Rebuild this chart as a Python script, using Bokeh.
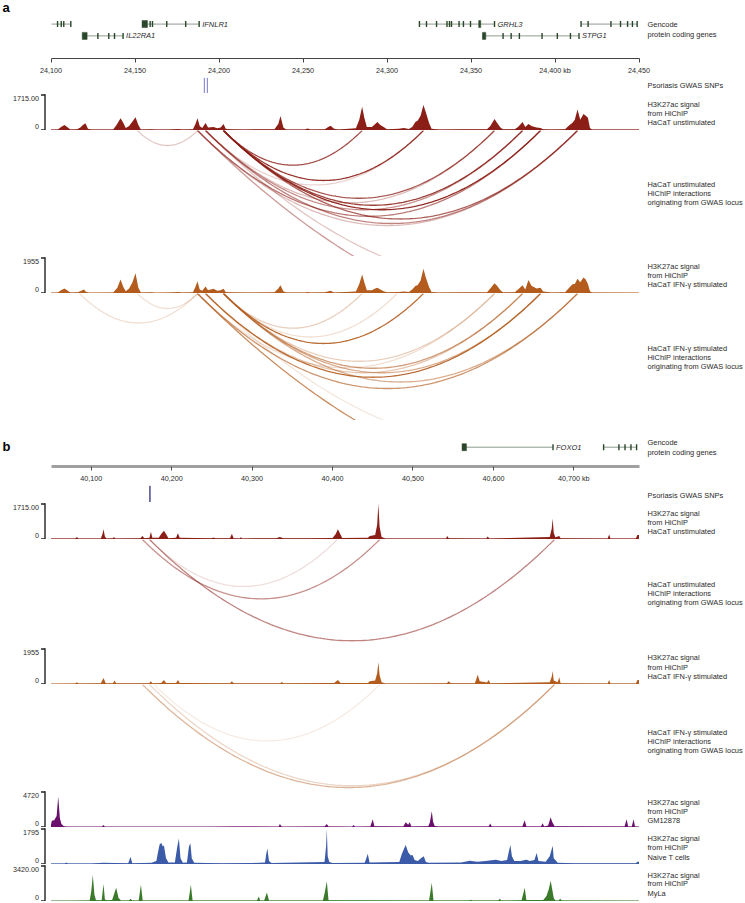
from bokeh.plotting import figure
from bokeh.layouts import column
from bokeh.models import Range1d, LinearAxis, FixedTicker, Label, BoxAnnotation
from bokeh.core.properties import value
from bokeh.embed import file_html
from bokeh.resources import INLINE

FONT = "Liberation Sans"
TXT = "#2a2a2a"

# ------------------------------------------------------------------ data: panel a
A_START, A_END = 24100, 24450
a_ticks = [24100, 24150, 24200, 24250, 24300, 24350, 24400, 24450]
a_tick_labels = ["24,100", "24,150", "24,200", "24,250", "24,300", "24,350", "24,400 kb", "24,450"]

a_gene_name = ["", "IFNLR1", "GRHL3", "", "IL22RA1", "STPG1"]
a_gene_start = [24100.3, 24154.2, 24319.3, 24415.5, 24118.6, 24356.8]
a_gene_end = [24111.8, 24188.2, 24364.0, 24448.9, 24142.9, 24414.3]
a_gene_row = [1, 1, 1, 1, 0, 0]
a_gene_exons = [
    [24103.9, 24106.1, 24107.6, 24111.8],
    [24159.0, 24160.4, 24168.9, 24180.2, 24188.2],
    [24319.3, 24323.5, 24329.5, 24335.7, 24337.2, 24338.4, 24342.9, 24345.5, 24349.7, 24364.0],
    [24415.5, 24419.7, 24433.3, 24439.0, 24443.2, 24446.1, 24448.9],
    [24127.9, 24134.4, 24137.8, 24142.9],
    [24369.1, 24373.9, 24378.8, 24392.3, 24401.4, 24409.2, 24414.3],
]
a_block_start = [24154.2, 24354.6, 24118.6, 24356.8]
a_block_end = [24157.4, 24355.8, 24121.5, 24358.8]
a_block_row = [1, 1, 0, 0]

a_snps = [24191.3, 24193.1]

sig_a_unstim = [
    (24100, 20), (24104, 30), (24106, 150), (24108, 245), (24110, 120), (24111.5, 30),
    (24115.5, 40), (24117.5, 120), (24119, 250), (24120.5, 330), (24122, 60), (24124, 20),
    (24137, 30), (24139, 250), (24141.4, 570), (24143, 350), (24144.5, 100), (24146.5, 200),
    (24148.5, 420), (24150.3, 620), (24152, 250), (24153.5, 30),
    (24160, 40), (24162, 20), (24170, 30), (24176, 50), (24178, 25),
    (24184.5, 40), (24186, 300), (24187.2, 570), (24188.5, 200), (24190, 100), (24192, 340),
    (24193.5, 120), (24196.7, 150), (24199, 90), (24201, 120), (24202.7, 290), (24204, 60), (24206.5, 40),
    (24215, 30), (24233, 40), (24235.3, 300), (24236.6, 690), (24238.3, 120), (24240, 30),
    (24251, 30), (24252.7, 70), (24254.5, 25), (24263, 40), (24265, 150), (24266.4, 210), (24268.5, 60), (24271, 30),
    (24281.5, 80), (24283.5, 500), (24285.2, 1140), (24286.5, 600), (24288, 150), (24291, 150),
    (24293, 300), (24294.3, 390), (24296, 250), (24298, 150), (24300, 40),
    (24307, 60), (24310, 100), (24313, 50), (24315, 150), (24317, 400), (24318.2, 450), (24320, 700),
    (24321.7, 1220), (24323, 900), (24325, 350), (24326.5, 60), (24331, 30),
    (24346, 35), (24359.5, 40), (24361.5, 200), (24364, 540), (24365.5, 350), (24367.5, 120), (24369, 40),
    (24376, 40), (24378, 150), (24380.7, 390), (24382.3, 150), (24384.2, 290), (24386, 200), (24389, 120),
    (24391.4, 100), (24393, 40), (24398, 30),
    (24406, 40), (24408, 200), (24410.4, 350), (24411.8, 500), (24413.4, 1010), (24415, 500), (24417, 790),
    (24418.3, 700), (24419.6, 600), (24420.8, 100), (24422, 25), (24450, 20),
]
sig_a_ifng = [
    (24100, 20), (24104, 30), (24106, 150), (24108, 245), (24110, 120), (24111.5, 30),
    (24116, 40), (24118, 120), (24119.6, 200), (24121, 60), (24123, 20),
    (24137, 30), (24139.5, 300), (24141.4, 750), (24143, 350), (24144.5, 100), (24146.5, 250),
    (24148.5, 600), (24150.3, 1100), (24152, 300), (24153.5, 30),
    (24160, 40), (24162, 20), (24170, 30), (24176, 50), (24178, 25),
    (24184.5, 40), (24186, 350), (24187.2, 650), (24188.5, 200), (24190, 120), (24192, 370),
    (24193.5, 150), (24196.7, 240), (24199, 120), (24201, 150), (24202.7, 240), (24204, 60), (24206.5, 40),
    (24215, 30), (24233, 40), (24235.3, 250), (24236.6, 430), (24238.3, 100), (24240, 30),
    (24251, 30), (24252.7, 60), (24254.5, 25), (24263, 40), (24266.4, 120), (24268.5, 30),
    (24281.5, 80), (24283.5, 500), (24285.2, 1040), (24286.5, 600), (24288, 150), (24291, 150),
    (24293, 250), (24294.3, 300), (24296, 200), (24298, 100), (24300, 40),
    (24307, 60), (24310, 80), (24313, 50), (24315, 200), (24317, 400), (24318.2, 430), (24320, 700),
    (24321.7, 1360), (24323, 900), (24325, 350), (24326.5, 60), (24331, 30),
    (24346, 35), (24359.5, 40), (24361.5, 250), (24364, 550), (24365.5, 400), (24367.5, 150), (24369, 40),
    (24376, 40), (24378, 200), (24380.7, 430), (24382.3, 200), (24384.2, 730), (24386, 400), (24389, 250),
    (24391.4, 300), (24393, 80), (24398, 30),
    (24406, 40), (24408, 250), (24410.4, 490), (24411.8, 500), (24413.4, 800), (24415, 600), (24417, 860),
    (24418.3, 750), (24419.6, 500), (24420.8, 100), (24422, 25), (24450, 20),
]
A_UNSTIM_MAX, A_IFNG_MAX = 1715, 1955

# interactions: (anchor 1 kb, anchor 2 kb, strength 0-1)
arcs_a_unstim = [
    (24151.5, 24187.2, 0.25), (24202.7, 24285.2, 0.8), (24202.7, 24321.7, 0.9), (24192.0, 24321.7, 0.2),
    (24202.7, 24364.0, 0.75), (24192.0, 24364.0, 0.3), (24202.7, 24380.7, 0.85), (24192.0, 24380.7, 0.5),
    (24202.7, 24391.4, 0.95), (24187.2, 24391.4, 0.6), (24202.7, 24413.4, 0.7), (24192.0, 24413.4, 0.55),
    (24187.2, 24413.4, 0.3), (24187.2, 24665.0, 0.45), (24192.0, 24560.0, 0.25),
]
arcs_a_ifng = [
    (24117.0, 24187.2, 0.2), (24151.5, 24187.2, 0.2), (24202.7, 24285.2, 0.3), (24202.7, 24306.0, 0.2),
    (24202.7, 24321.7, 0.9), (24202.7, 24364.0, 0.3), (24187.2, 24364.0, 0.2), (24202.7, 24380.7, 0.6),
    (24192.0, 24380.7, 0.35), (24192.0, 24391.4, 0.9), (24202.7, 24391.4, 0.5), (24187.2, 24413.4, 0.65),
    (24202.7, 24413.4, 0.5), (24187.2, 24665.0, 0.7), (24192.0, 24560.0, 0.15),
]

# ------------------------------------------------------------------ data: panel b
B_START, B_END = 40050, 40781
b_ticks = [40100, 40200, 40300, 40400, 40500, 40600, 40700]
b_tick_labels = ["40,100", "40,200", "40,300", "40,400", "40,500", "40,600", "40,700 kb"]

b_gene_name = ["FOXO1", ""]
b_gene_start = [40562.2, 40736.2]
b_gene_end = [40674.1, 40778.0]
b_gene_row = [0, 0]
b_gene_exons = [[40674.1], [40737.0, 40756.0, 40763.6, 40771.0, 40778.0]]
b_block_start = [40561.0]
b_block_end = [40566.5]
b_block_row = [0]

b_snps = [40173.0]

sig_b_unstim = [
    (40050, 20), (40080, 25), (40082.3, 100), (40084, 25), (40112, 30), (40114, 250), (40115.3, 480),
    (40117, 120), (40119, 30), (40127, 40), (40128.3, 100), (40130, 30), (40161, 40), (40163.7, 150),
    (40166, 40), (40172.5, 60), (40174.2, 360), (40176, 60), (40184, 60), (40187, 250), (40190.4, 400),
    (40193, 250), (40196, 40), (40205.5, 60), (40207.8, 280), (40210, 60), (40250, 40), (40252, 70), (40254, 40),
    (40272.5, 40), (40274.9, 260), (40277, 40), (40285, 30), (40286.1, 100), (40287.5, 30), (40330, 40),
    (40334.5, 100), (40339, 40), (40370, 40), (40400, 50), (40404, 250), (40406.6, 480), (40409, 300),
    (40412, 50), (40444, 60), (40446.3, 150), (40453, 200), (40455.5, 700), (40457, 1715), (40458.5, 600),
    (40461, 100), (40466, 30), (40541, 30), (40542.6, 150), (40544.5, 40), (40591, 30), (40592.9, 120),
    (40595, 30), (40620, 50), (40670, 100), (40672.5, 500), (40673.7, 1000), (40675, 300), (40677, 80),
    (40681.9, 150), (40683.5, 40), (40742, 30), (40743.9, 220), (40745.5, 30), (40777, 30), (40779, 200),
    (40781, 200),
]
sig_b_ifng = [
    (40050, 20), (40080, 25), (40082.3, 100), (40084, 25), (40112, 40), (40115.3, 340), (40118, 40),
    (40127, 40), (40129, 200), (40131, 40), (40172, 40), (40174.2, 160), (40176, 40), (40187, 60),
    (40190.4, 220), (40193, 60), (40205.5, 60), (40207.8, 230), (40210, 60), (40272.5, 40), (40274.9, 150),
    (40277, 40), (40335, 40), (40337, 110), (40339, 40), (40402, 60), (40406.6, 230), (40410, 60),
    (40444, 60), (40446.3, 160), (40453, 200), (40455.5, 600), (40457, 1210), (40458.5, 500), (40461, 100),
    (40466, 30), (40542, 40), (40544.5, 160), (40547, 40), (40577, 40), (40580.5, 520), (40583, 150),
    (40592, 80), (40594.2, 220), (40596, 40), (40670, 100), (40672.5, 400), (40673.7, 720), (40675, 200),
    (40680, 100), (40681.9, 380), (40683.5, 40), (40742, 30), (40743.9, 220), (40745.5, 30), (40777, 30),
    (40779, 220), (40781, 220),
]
sig_b_gm12878 = [
    (40050, 300), (40051, 830), (40054, 900), (40057, 1500), (40059, 4100), (40061, 1200), (40063, 400),
    (40066, 100), (40070, 40), (40113, 40), (40115.3, 260), (40117, 40), (40180, 40), (40210, 50),
    (40250, 40), (40275, 60), (40333, 50), (40334.5, 390), (40337, 50), (40390, 60), (40392.9, 390),
    (40395, 60), (40424, 40), (40426.4, 260), (40428, 40), (40447, 80), (40450, 1050), (40452, 100),
    (40488, 80), (40491, 650), (40494, 300), (40496, 650), (40498, 80), (40519, 100), (40521, 600),
    (40523.4, 2140), (40525, 700), (40527, 150), (40532, 60), (40594, 60), (40596, 480), (40598, 60),
    (40636, 80), (40638.9, 920), (40641, 80), (40659, 60), (40661.3, 520), (40663, 60), (40668, 200),
    (40671.2, 1310), (40673, 700), (40676, 100), (40763, 60), (40765.6, 1050), (40767.5, 80), (40772, 80),
    (40774.3, 1050), (40776, 80), (40781, 40),
]
sig_b_naive_t = [
    (40050, 20), (40067, 30), (40069, 80), (40071, 30), (40100, 30), (40115, 60), (40146, 40),
    (40148.9, 370), (40151, 40), (40175, 60), (40181, 150), (40183, 600), (40185, 1000), (40187.3, 1080),
    (40189, 900), (40190.4, 950), (40193, 300), (40196, 80), (40204, 80), (40207, 900), (40209, 1310),
    (40211, 300), (40214, 60), (40219, 80), (40221.5, 900), (40223.3, 1070), (40225, 300), (40228, 60),
    (40262, 40), (40300, 50), (40316, 80), (40318, 600), (40319, 800), (40321, 150), (40324, 50),
    (40390, 100), (40392, 900), (40392.9, 1795), (40394, 400), (40396, 100), (40400, 50), (40440, 60),
    (40442, 300), (40443.8, 520), (40446, 80), (40483, 100), (40486, 500), (40489, 800), (40491, 970),
    (40494, 600), (40497, 450), (40499.7, 450), (40502, 200), (40506, 150), (40510, 300), (40513.4, 400),
    (40516, 100), (40520, 60), (40560, 80), (40570.6, 170), (40580, 120), (40590, 150), (40602.9, 220),
    (40610, 150), (40617, 200), (40619, 600), (40621.1, 970), (40623, 400), (40626, 150), (40634, 150),
    (40638.9, 200), (40641.4, 220), (40645, 150), (40651, 200), (40653.8, 560), (40656, 150), (40665, 120),
    (40670, 400), (40673.7, 930), (40675, 300), (40680, 60), (40700, 40), (40777, 40), (40779, 110),
    (40781, 110),
]
sig_b_myla = [
    (40050, 20), (40070, 30), (40098, 60), (40100, 900), (40102, 2540), (40104, 600), (40106, 80),
    (40113, 80), (40115.3, 1670), (40117, 150), (40120, 80), (40126, 100), (40129, 800), (40131, 1290),
    (40134, 300), (40137, 60), (40147, 60), (40148.9, 230), (40151, 40), (40159, 60), (40161.8, 1590),
    (40164, 60), (40221, 60), (40223.9, 1590), (40226, 60), (40306, 40), (40308.4, 450), (40310, 40),
    (40315, 60), (40318.4, 830), (40321, 50), (40388, 60), (40390, 700), (40392.9, 1900), (40395, 80),
    (40520, 60), (40523.4, 1790), (40525.5, 60), (40570, 40), (40572, 110), (40574, 40), (40606, 40),
    (40607.8, 230), (40610, 40), (40635, 80), (40638.9, 1290), (40641, 100), (40662, 100), (40666, 500),
    (40669, 1200), (40671.2, 1970), (40673, 1200), (40675, 300), (40677, 60), (40681, 40), (40683, 230),
    (40685, 40), (40781, 20),
]
B_UNSTIM_MAX, B_IFNG_MAX, B_GM_MAX, B_NAIVE_MAX, B_MYLA_MAX = 1715, 1955, 4720, 1795, 3420
b_max_labels = ["1715.00", "1955", "4720", "1795", "3420.00"]

arcs_b_unstim = [(40172.5, 40406.0, 0.15), (40163.7, 40458.7, 0.5), (40172.5, 40676.0, 0.55)]
arcs_b_ifng = [(40178.0, 40458.7, 0.12), (40163.7, 40676.0, 0.45), (40172.5, 40676.0, 0.25)]

# ------------------------------------------------------------------ layout / styling
W = 745
DATA_X0 = 50.5        # screen x of the first base of each locus
DATA_W = 588.0        # screen width of each locus
RIGHT_X = 647         # screen x of the track descriptions
BRACKET_X = 44.5      # screen x of the value bracket of signal tracks
RED, ORANGE = "#8b1e16", "#b35c1e"
PURPLE, BLUE, GREEN = "#6a0f6b", "#3b5aa8", "#3b7a2a"
A_PPK = DATA_W / (A_END - A_START)
B_PPK = DATA_W / (B_END - B_START)
A_XR = Range1d(A_START - DATA_X0 / A_PPK, A_START + (W - DATA_X0) / A_PPK)
B_XR = Range1d(B_START - DATA_X0 / B_PPK, B_START + (W - DATA_X0) / B_PPK)
LBL = "7.45px"


def base_fig(xr, yr, fh, bottom=0):
    p = figure(width=W, height=fh + bottom, x_range=xr, y_range=yr,
               output_backend="svg", toolbar_location=None,
               x_axis_location=None, y_axis_location=None,
               min_border_left=0, min_border_right=0,
               min_border_top=0, min_border_bottom=bottom)
    p.outline_line_color = None
    p.background_fill_color = "white"
    p.border_fill_color = "white"
    p.grid.visible = False
    return p


def right_text(p, fh, lines, offsets):
    for t, o in zip(lines, offsets):
        p.add_layout(Label(x=RIGHT_X, y=fh - o, x_units="screen", y_units="screen", text=t,
                           text_font=FONT, text_font_size=LBL, text_color=TXT,
                           text_baseline="middle", text_align="left"))


def gene_fig(xr, fh, bottom, row_top_px, names, starts, ends, rows, exons,
             bs, be, br, ticks, tick_labels, bounds, thick_axis, text_lines, text_offsets):
    unit = 12.0
    top_row = max(rows)
    yr = Range1d(top_row - (fh - row_top_px) / unit, top_row + row_top_px / unit)
    p = base_fig(xr, yr, fh, bottom)
    p.segment(x0=starts, y0=rows, x1=ends, y1=rows, line_color="#8f9c8f", line_width=1)
    ex_x, ex_y = [], []
    for ex, r in zip(exons, rows):
        ex_x += ex
        ex_y += [r] * len(ex)
    p.rect(x=ex_x, y=ex_y, width=1.4, height=6, width_units="screen", height_units="screen",
           fill_color="#2b472b", line_color=None)
    p.rect(x=[(s + e) / 2 for s, e in zip(bs, be)], y=br, width=[e - s for s, e in zip(bs, be)],
           height=7, height_units="screen", fill_color="#2b472b", line_color="#2b472b", line_width=0.5)
    lab_x = [e for n, e in zip(names, ends) if n]
    lab_y = [r for n, r in zip(names, rows) if n]
    lab_t = [n for n in names if n]
    p.text(x=lab_x, y=lab_y, text=lab_t, x_offset=3, text_font=value(FONT), text_font_style="italic",
           text_font_size="7.5px", text_color=TXT, text_baseline="middle")
    ax = LinearAxis(ticker=FixedTicker(ticks=ticks),
                    major_label_overrides=dict(zip(ticks, tick_labels)),
                    bounds=bounds, major_tick_out=4, major_tick_in=0,
                    minor_tick_out=0, minor_tick_in=0, major_label_standoff=3,
                    major_label_text_font=FONT, major_label_text_font_size="7.2px",
                    major_label_text_color=TXT)
    if thick_axis:
        ax.axis_line_color = "#a0a0a0"
        ax.axis_line_width = 3
        ax.major_tick_line_color = "#555555"
    else:
        ax.axis_line_color = "#444444"
        ax.major_tick_line_color = "#444444"
    p.add_layout(ax, "below")
    right_text(p, fh, text_lines, text_offsets)
    return p


def snp_fig(xr, fh, snps, color, label_off):
    p = base_fig(xr, Range1d(0, 1), fh)
    p.segment(x0=snps, y0=0.02, x1=snps, y1=0.98, line_color=color, line_width=1.2)
    right_text(p, fh, ["Psoriasis GWAS SNPs"], [label_off])
    return p


def signal_fig(xr, ppk, data, ymax, ymax_label, color, lines, offsets):
    fh = 37
    u = ymax / 35.0
    p = base_fig(xr, Range1d(-0.5 * u, ymax + 1.5 * u), fh)
    xs = [d[0] for d in data]
    ys = [d[1] for d in data]
    p.line(x=[xs[0], xs[-1]], y=[0, 0], line_color=color, line_alpha=0.35, line_width=2)
    p.varea(x=xs, y1=0, y2=ys, fill_color=color)
    # value bracket (the track's y axis, from 0 to its maximum): upright bar and two short ticks
    bar = dict(fill_color="#222222", fill_alpha=1.0, line_color=None,
               left_units="screen", right_units="screen", top_units="data", bottom_units="data")
    p.add_layout(BoxAnnotation(left=BRACKET_X - 0.7, right=BRACKET_X + 0.7, top=ymax + 0.7 * u,
                               bottom=-0.7 * u, **bar))
    p.add_layout(BoxAnnotation(left=BRACKET_X - 4, right=BRACKET_X, top=ymax + 0.7 * u,
                               bottom=ymax - 0.7 * u, **bar))
    p.add_layout(BoxAnnotation(left=BRACKET_X - 4, right=BRACKET_X, top=0.7 * u,
                               bottom=-0.7 * u, **bar))
    p.add_layout(Label(x=BRACKET_X - 6, y=fh - 2.5, x_units="screen", y_units="screen", text=ymax_label,
                       text_font=FONT, text_font_size="7.2px", text_color=TXT,
                       text_align="right", text_baseline="top"))
    p.add_layout(Label(x=BRACKET_X - 6, y=1.5, x_units="screen", y_units="screen", text="0",
                       text_font=FONT, text_font_size="7.2px", text_color=TXT,
                       text_align="right", text_baseline="bottom"))
    right_text(p, fh, lines, offsets)
    return p


def arc_fig(xr, ppk, fh, arcs, color, lines, offsets, xmax):
    # each interaction is drawn as a parabola whose depth is a quarter of its span,
    # cut at the end of the displayed locus
    p = base_fig(xr, Range1d(-fh / ppk, 0), fh)
    n = 120
    all_x, all_y = [], []
    for a, b, s in arcs:
        c = b - a
        xe = min(b, xmax)
        xs = [a + (xe - a) * i / n for i in range(n + 1)]
        all_x.append(xs)
        all_y.append([-(x - a) * (b - x) / c for x in xs])
    p.multi_line(xs=all_x, ys=all_y, line_color=color, line_alpha=[a[2] for a in arcs], line_width=1.3)
    right_text(p, fh, lines, offsets)
    return p


def panel_letter(p, text, y):
    p.add_layout(Label(x=2, y=y, x_units="screen", y_units="screen", text=text,
                       text_font=FONT, text_font_style="bold", text_font_size="13px",
                       text_color="#000000", text_baseline="middle"))


SIG = ["H3K27ac signal", "from HiChIP"]
INT = ["HiChIP interactions", "originating from GWAS locus"]
figs = []

# ---------------- panel a
a_genes = gene_fig(A_XR, 59, 18, 24, a_gene_name, a_gene_start, a_gene_end, a_gene_row, a_gene_exons,
                   a_block_start, a_block_end, a_block_row, a_ticks, a_tick_labels,
                   (A_START, A_END), False, ["Gencode", "protein coding genes"], [24.5, 35])
panel_letter(a_genes, "a", 59 - 8)
figs.append(a_genes)
figs.append(snp_fig(A_XR, 16, a_snps, "#8f8fd6", 8))
figs.append(signal_fig(A_XR, A_PPK, sig_a_unstim, A_UNSTIM_MAX, "1715.00", RED,
                       SIG + ["HaCaT unstimulated"], [11, 20, 29]))
figs.append(arc_fig(A_XR, A_PPK, 126, arcs_a_unstim, RED,
                    ["HaCaT unstimulated"] + INT, [54, 63, 72], A_END))
figs.append(signal_fig(A_XR, A_PPK, sig_a_ifng, A_IFNG_MAX, "1955", ORANGE,
                       SIG + ["HaCaT IFN-γ stimulated"], [10, 19, 28]))
figs.append(arc_fig(A_XR, A_PPK, 127, arcs_a_ifng, ORANGE,
                    ["HaCaT IFN-γ stimulated"] + INT, [54.7, 63.7, 73], A_END))

# ---------------- panel b
b_genes = gene_fig(B_XR, 46, 19, 26.7, b_gene_name, b_gene_start, b_gene_end, b_gene_row, b_gene_exons,
                   b_block_start, b_block_end, b_block_row, b_ticks, b_tick_labels,
                   (B_START, B_END), True, ["Gencode", "protein coding genes"], [21.7, 31.7])
panel_letter(b_genes, "b", 46 - 26)
figs.append(b_genes)
figs.append(snp_fig(B_XR, 17, b_snps, "#1c1c78", 10))
figs.append(signal_fig(B_XR, B_PPK, sig_b_unstim, B_UNSTIM_MAX, b_max_labels[0], RED,
                       SIG + ["HaCaT unstimulated"], [10.7, 20, 29.3]))
figs.append(arc_fig(B_XR, B_PPK, 108, arcs_b_unstim, RED,
                    ["HaCaT unstimulated"] + INT, [45.3, 54.3, 63.3], B_END))
figs.append(signal_fig(B_XR, B_PPK, sig_b_ifng, B_IFNG_MAX, b_max_labels[1], ORANGE,
                       SIG + ["HaCaT IFN-γ stimulated"], [10.3, 19.7, 29]))
figs.append(arc_fig(B_XR, B_PPK, 106, arcs_b_ifng, ORANGE,
                    ["HaCaT IFN-γ stimulated"] + INT, [48, 57, 66], B_END))
figs.append(signal_fig(B_XR, B_PPK, sig_b_gm12878, B_GM_MAX, b_max_labels[2], PURPLE,
                       SIG + ["GM12878"], [11.7, 21, 30]))
figs.append(signal_fig(B_XR, B_PPK, sig_b_naive_t, B_NAIVE_MAX, b_max_labels[3], BLUE,
                       SIG + ["Naive T cells"], [11.3, 20.3, 29.7]))
figs.append(signal_fig(B_XR, B_PPK, sig_b_myla, B_MYLA_MAX, b_max_labels[4], GREEN,
                       SIG + ["MyLa"], [11, 19.3, 28.7]))

layout = column(figs, spacing=0)
open("out.html", "w").write(file_html(layout, INLINE))
